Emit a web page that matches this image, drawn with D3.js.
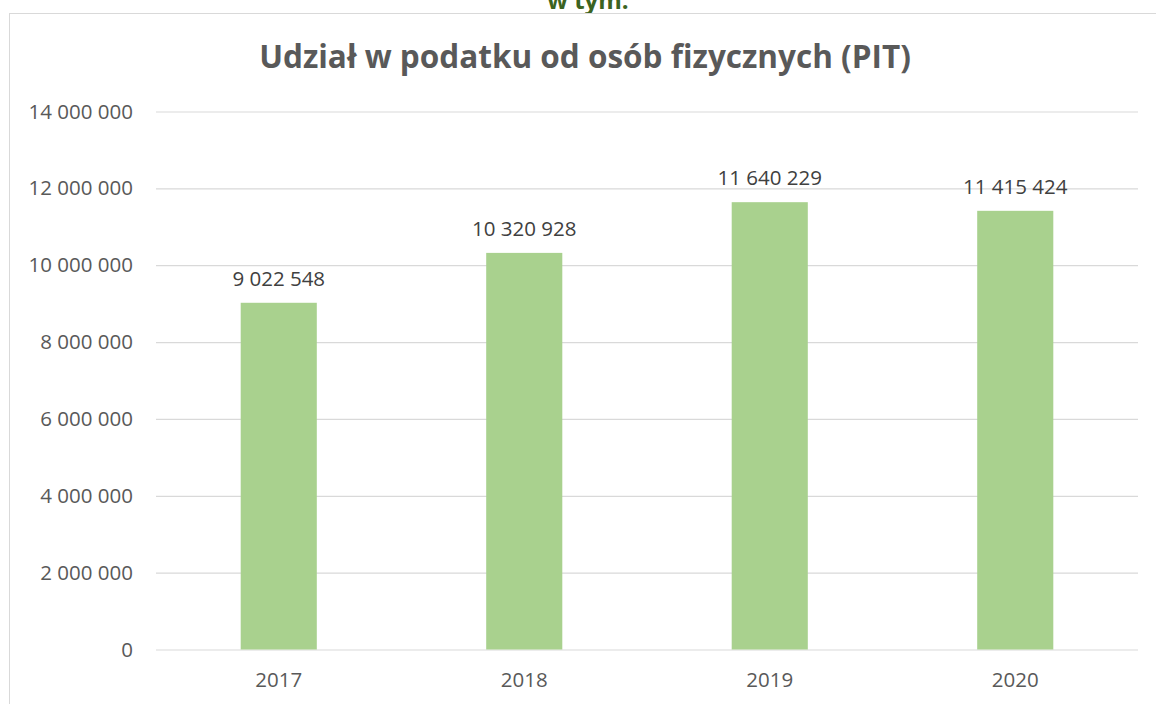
<!DOCTYPE html>
<html>
<head>
<meta charset="utf-8">
<script src="https://cdn.jsdelivr.net/npm/d3@7"></script>
<style>
  html, body { margin: 0; padding: 0; background: #fff; }
  svg { display: block; }
</style>
</head>
<body>
<svg id="chart" width="1156" height="704"></svg>
<script>
const years = ["2017", "2018", "2019", "2020"];
const values = [9022548, 10320928, 11640229, 11415424];
const yTicks = [0, 2000000, 4000000, 6000000, 8000000, 10000000, 12000000, 14000000];
const titleText = "Udział w podatku od osób fizycznych (PIT)";
const headerText = "w tym:";

const svg = d3.select("#chart");
const W = 1156, H = 704;
const FONT = "'Open Sans', 'Noto Sans', sans-serif";
const fmt = v => d3.format(",")(v).replace(/,/g, " ");

// header above the chart frame (cut off by the page edge, as in the original)
svg.append("text")
  .attr("x", 588).attr("y", 9)
  .attr("text-anchor", "middle")
  .attr("font-family", FONT).attr("font-weight", 700)
  .attr("font-size", 24).attr("fill", "#3b6321")
  .text(headerText);

// chart frame
svg.append("rect")
  .attr("x", 9.5).attr("y", 13.5)
  .attr("width", W + 20).attr("height", H + 20)
  .attr("fill", "#fff").attr("stroke", "#d9d9d9").attr("stroke-width", 1);

const x = d3.scaleBand().domain(years).range([156, 1138])
  .paddingInner(0.69).paddingOuter(0.345);
const y = d3.scaleLinear().domain([0, 14000000]).range([649.5, 111.5]);

// title
svg.append("text")
  .attr("x", 585).attr("y", 68)
  .attr("text-anchor", "middle")
  .attr("font-family", FONT).attr("font-weight", 700)
  .attr("font-size", 31.5).attr("fill", "#595959")
  .text(titleText);

// gridlines + y tick labels
const yAxis = d3.axisLeft(y).tickValues(yTicks).tickSize(-(1138 - 156)).tickFormat(fmt).tickPadding(23);
const gy = svg.append("g").attr("transform", "translate(156,0)").call(yAxis);
gy.select(".domain").remove();
gy.selectAll(".tick line").attr("stroke", "#d9d9d9").attr("stroke-width", 1.2);
gy.selectAll(".tick text")
  .attr("font-family", FONT).attr("font-size", 20.5).attr("fill", "#595959");

// bars
svg.append("g").selectAll("rect").data(values).join("rect")
  .attr("x", (d, i) => x(years[i]))
  .attr("width", x.bandwidth())
  .attr("y", d => y(d))
  .attr("height", d => y(0) - y(d))
  .attr("fill", "#a9d18e");

// data labels
svg.append("g").selectAll("text").data(values).join("text")
  .attr("x", (d, i) => x(years[i]) + x.bandwidth() / 2)
  .attr("y", d => y(d) - 17)
  .attr("text-anchor", "middle")
  .attr("font-family", FONT).attr("font-size", 20.5).attr("fill", "#404040")
  .text(d => fmt(d));

// x axis labels
const xAxis = d3.axisBottom(x).tickSize(0).tickPadding(23);
const gx = svg.append("g").attr("transform", "translate(0,649.5)").call(xAxis);
gx.select(".domain").remove();
gx.selectAll(".tick text")
  .attr("font-family", FONT).attr("font-size", 20.5).attr("fill", "#595959");
</script>
</body>
</html>
